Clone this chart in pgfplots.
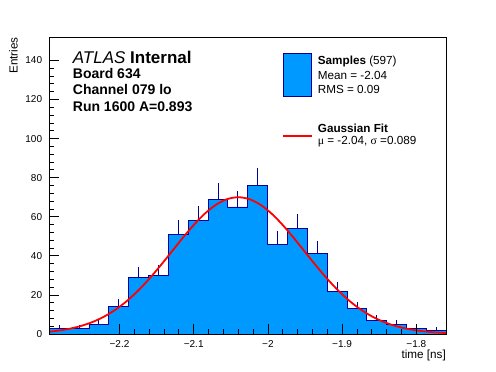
\documentclass[border=0pt]{standalone}
\usepackage{fontspec}
\setmainfont{Liberation Sans}
\newfontfamily\serifsym{Liberation Serif}
\usepackage{pgfplots}
\pgfplotsset{compat=1.18}
\definecolor{histfill}{RGB}{0,153,255}
\definecolor{histline}{RGB}{0,0,153}
\begin{document}
\begin{tikzpicture}
\useasboundingbox (0,0) rectangle (496pt,372pt);
\begin{axis}[
  at={(49.3pt,38pt)}, anchor=south west,
  scale only axis, width=397pt, height=297pt,
  xmin=-2.2946, xmax=-1.7596, ymin=0, ymax=152,
  axis on top=true,
  axis line style={line width=0.8pt},
  tick align=inside, tick pos=left,
  major tick length=10pt, minor tick length=5pt,
  xtick={-2.2,-2.1,-2,-1.9,-1.8},
  xticklabels={−2.2,−2.1,−2,−1.9,−1.8},
  minor x tick num=4,
  ytick={0,20,40,60,80,100,120,140},
  minor y tick num=4,
  tick style={black, line width=0.8pt},
  /pgf/number format/assume math mode=true,
  tick label style={font=\fontsize{10}{12}\selectfont, inner sep=0pt},
  xticklabel style={anchor=north, yshift=-6pt},
  yticklabel style={anchor=east, xshift=-7pt},
]
\addplot[const plot, fill=histfill, draw=histline, line width=0.9pt] coordinates {
(-2.2946,3) (-2.26785,3) (-2.2411,5) (-2.21435,14) (-2.1876,29)
(-2.16085,30) (-2.1341,51) (-2.10735,58) (-2.0806,69) (-2.05385,65)
(-2.0271,76) (-2.00035,46) (-1.9736,54) (-1.94685,41) (-1.9201,22)
(-1.89335,13) (-1.8666,7) (-1.83985,5) (-1.8131,3) (-1.78635,2)
(-1.7596,2)
} \closedcycle;
\addplot[draw=none, mark=none,
  error bars/.cd, y dir=plus, y explicit, error mark=none,
  error bar style={draw=histline, line width=0.9pt}] coordinates {
(-2.281225,3) +- (0,1.732)
(-2.254475,3) +- (0,1.732)
(-2.227725,5) +- (0,2.236)
(-2.200975,14) +- (0,3.742)
(-2.174225,29) +- (0,5.385)
(-2.147475,30) +- (0,5.477)
(-2.120725,51) +- (0,7.141)
(-2.093975,58) +- (0,7.616)
(-2.067225,69) +- (0,8.307)
(-2.040475,65) +- (0,8.062)
(-2.013725,76) +- (0,8.718)
(-1.986975,46) +- (0,6.782)
(-1.960225,54) +- (0,7.348)
(-1.933475,41) +- (0,6.403)
(-1.906725,22) +- (0,4.690)
(-1.879975,13) +- (0,3.606)
(-1.853225,7) +- (0,2.646)
(-1.826475,5) +- (0,2.236)
(-1.799725,3) +- (0,1.732)
(-1.772975,2) +- (0,1.414)
};
\addplot[red, line width=1.8pt, smooth] coordinates {
(-2.2946,1.16) (-2.28,1.845) (-2.265,2.866) (-2.25,4.328) (-2.235,6.350)
(-2.22,9.058) (-2.205,12.55) (-2.19,16.91) (-2.175,22.16) (-2.16,28.20)
(-2.145,34.90) (-2.13,41.98) (-2.115,49.08) (-2.10,55.77) (-2.085,61.60)
(-2.07,66.14) (-2.055,69.01) (-2.04,70) (-2.025,69.01) (-2.01,66.14)
(-1.995,61.60) (-1.98,55.77) (-1.965,49.08) (-1.95,41.98) (-1.935,34.90)
(-1.92,28.20) (-1.905,22.16) (-1.89,16.91) (-1.875,12.55) (-1.86,9.058)
(-1.845,6.350) (-1.83,4.328) (-1.815,2.866) (-1.80,1.845) (-1.785,1.155)
(-1.77,0.702) (-1.7596,0.489)
};
\end{axis}
% legend
\filldraw[fill=histfill, draw=histline, line width=0.9pt] (283.3pt,275.3pt) rectangle (311.7pt,318.7pt);
\draw[red, line width=1.8pt] (283pt,236.3pt) -- (312pt,236.3pt);
\node[anchor=base west, inner sep=0pt, font=\fontsize{11.7}{14}\selectfont] at (317.7pt,307pt) {\textbf{Samples} (597)};
\node[anchor=base west, inner sep=0pt, font=\fontsize{11.7}{14}\selectfont] at (317.7pt,292pt) {Mean = -2.04};
\node[anchor=base west, inner sep=0pt, font=\fontsize{11.7}{14}\selectfont] at (317.7pt,278.7pt) {RMS = 0.09};
\node[anchor=base west, inner sep=0pt, font=\fontsize{11.7}{14}\selectfont] at (317.7pt,239.3pt) {\textbf{Gaussian Fit}};
\node[anchor=base west, inner sep=0pt, font=\fontsize{11.7}{14}\selectfont] at (317.7pt,227.7pt) {{\serifsym μ} = -2.04, {\serifsym σ} =0.089};
% labels
\node[anchor=base west, inner sep=0pt, font=\fontsize{17}{20}\selectfont] at (72.7pt,308pt) {\textit{ATLAS} \textbf{Internal}};
\node[anchor=base west, inner sep=0pt, font=\bfseries\fontsize{14}{16}\selectfont] at (72.7pt,293.7pt) {Board 634};
\node[anchor=base west, inner sep=0pt, font=\bfseries\fontsize{14}{16}\selectfont] at (72.7pt,277pt) {Channel 079 lo};
\node[anchor=base west, inner sep=0pt, font=\bfseries\fontsize{14}{16}\selectfont] at (72.7pt,260.3pt) {Run 1600 A=0.893};
\node[anchor=base east, inner sep=0pt, font=\fontsize{11.7}{14}\selectfont] at (446pt,13.5pt) {time [ns]};
\node[anchor=base east, rotate=90, inner sep=0pt, font=\fontsize{11.7}{14}\selectfont] at (17.5pt,335pt) {Entries};
\end{tikzpicture}
\end{document}
